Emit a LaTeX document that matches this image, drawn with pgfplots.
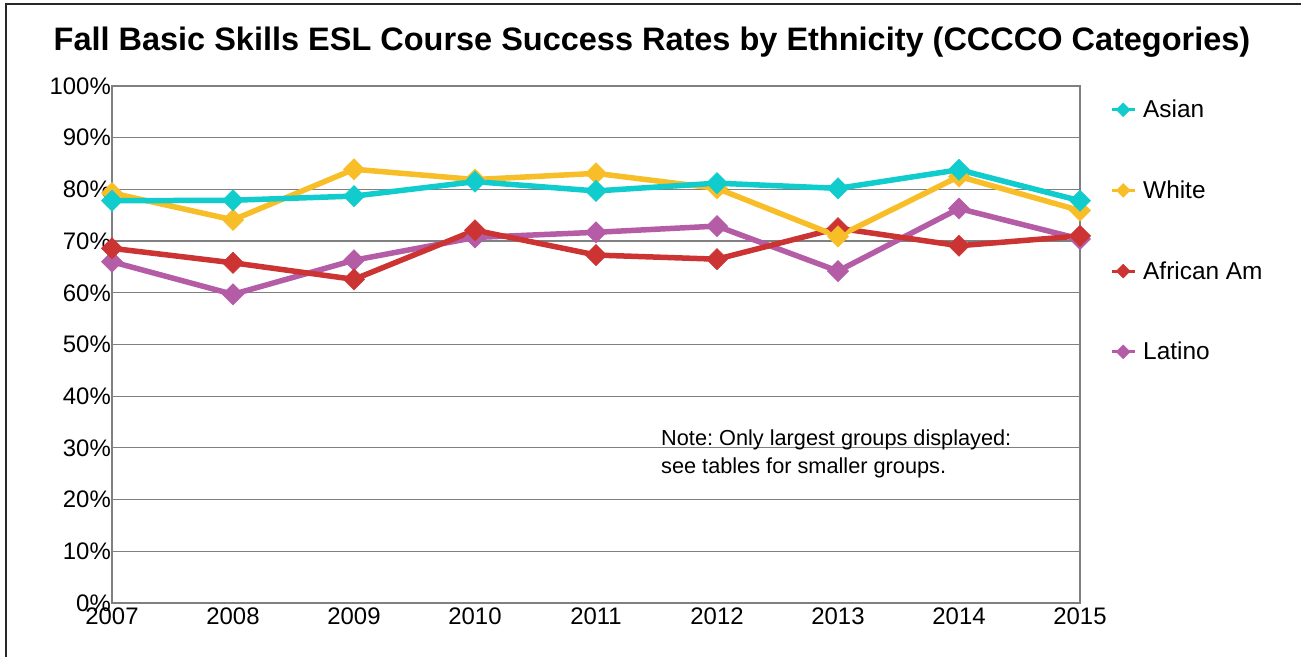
\documentclass[border=0pt]{standalone}
\usepackage{pgfplots}
\pgfplotsset{compat=1.18}
\usepackage{fontspec}
\setmainfont{Liberation Sans}
\frenchspacing
\definecolor{asian}{RGB}{17,204,204}
\definecolor{whitec}{RGB}{248,190,40}
\definecolor{afam}{RGB}{204,51,51}
\definecolor{latino}{RGB}{180,92,166}
\definecolor{gridc}{RGB}{128,128,128}
\begin{document}
\begin{tikzpicture}[x=1bp,y=1bp]
\useasboundingbox (0,0) rectangle (1301,656);
\fill[white] (0,0) rectangle (1301,656);
\draw[line width=1.5bp, color={rgb,255:red,40;green,40;blue,40}] (6,-2) -- (6,652) -- (1303,652);
\node[font=\fontsize{32.6}{38}\selectfont\bfseries] at (652,614) {Fall Basic Skills ESL Course Success Rates by Ethnicity (CCCCO Categories)};
\begin{axis}[at={(112bp,53bp)}, anchor=south west, scale only axis,
  width=968bp, height=517bp,
  xmin=2007, xmax=2015, ymin=0, ymax=100,
  xtick={2007,2008,...,2015}, ytick={0,10,...,100},
  yticklabel={\pgfmathprintnumber{\tick}\%},
  /pgf/number format/1000 sep={},
  /pgf/number format/assume math mode=true,
  tick label style={font=\fontsize{24}{28}\selectfont},
  xticklabel style={inner sep=0pt, yshift=-5bp},
  yticklabel style={inner sep=0pt, xshift=-1bp},
  major tick length=0pt,
  axis line style={gridc, line width=1.5bp},
  ymajorgrids, major grid style={gridc, line width=1.2bp},
  clip=false,
  every axis plot/.append style={line width=5.5bp, mark=square*, mark size=7.5bp,
     mark options={rotate=45, solid, line width=0.5bp}},
  legend style={at={(1,1)}, anchor=north west, xshift=30bp, yshift=-12bp,
     draw=none, fill=none, font=\fontsize{24.5}{28}\selectfont, row sep=57.5bp,
     inner sep=0pt, nodes={inner sep=2bp},
     /tikz/every odd column/.append style={column sep=5bp}},
  legend cell align=left, reverse legend,
  legend image code/.code={\draw[mark repeat=2, mark phase=2, #1, line width=3bp,
     every mark/.append style={scale=0.65}] plot coordinates {(0bp,0bp) (11.5bp,0bp) (23bp,0bp)};},
]
\addplot[color=latino] coordinates {(2007,66.0) (2008,59.7) (2009,66.3) (2010,70.7) (2011,71.7) (2012,72.9) (2013,64.2) (2014,76.3) (2015,70.4)};
\addlegendentry{Latino}
\addplot[color=afam] coordinates {(2007,68.6) (2008,65.8) (2009,62.6) (2010,72.1) (2011,67.3) (2012,66.5) (2013,72.5) (2014,69.1) (2015,71.0)};
\addlegendentry{African Am}
\addplot[color=whitec] coordinates {(2007,79.3) (2008,74.1) (2009,83.9) (2010,81.9) (2011,83.1) (2012,80.2) (2013,70.9) (2014,82.5) (2015,75.9)};
\addlegendentry{White}
\addplot[color=asian] coordinates {(2007,77.8) (2008,77.9) (2009,78.7) (2010,81.5) (2011,79.7) (2012,81.2) (2013,80.2) (2014,83.8) (2015,77.8)};
\addlegendentry{Asian}
\end{axis}
\node[anchor=base west, font=\fontsize{21.8}{28}\selectfont, inner sep=0pt] at (661,210) {Note: Only largest groups displayed:};
\node[anchor=base west, font=\fontsize{21.8}{28}\selectfont, inner sep=0pt] at (661,182) {see tables for smaller groups.};
\end{tikzpicture}
\end{document}
